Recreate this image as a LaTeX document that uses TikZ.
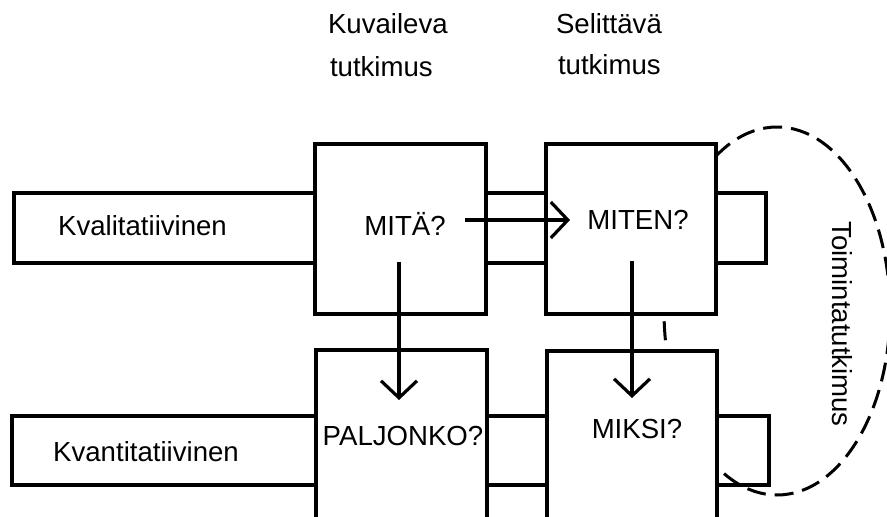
\documentclass[tikz,border=0pt]{standalone}
\usepackage{fontspec}
\setmainfont{Liberation Sans}
\usetikzlibrary{arrows.meta}
\begin{document}
\begin{tikzpicture}[x=1pt,y=-1pt,
  box/.style={draw, line width=3.2pt, rectangle, inner sep=0pt, outer sep=0pt},
  bigbox/.style={box, fill=white},
  lbl/.style={font=\fontsize{27.6}{33}\selectfont, inner sep=0pt, outer sep=0pt},
  conn/.style={line width=3.2pt, -{Straight Barb[length=17pt,width=36pt]}},
  dashring/.style={line width=3pt, dash pattern=on 19pt off 9pt, dash phase=4pt}
]
\useasboundingbox (0,0) rectangle (887,517);
\clip (0,0) rectangle (887,517);
\fill[white] (0,0) rectangle (887,517);

% dashed ellipse (Toimintatutkimus)
\draw[dashring] (777,311) ellipse [x radius=113, y radius=184];

% big boxes
\node[bigbox, minimum width=171pt, minimum height=170pt] (mita) at (400.5,229) {};
\node[bigbox, minimum width=170pt, minimum height=170pt] (miten) at (631,229) {};
\node[bigbox, minimum width=171pt, minimum height=250pt] (paljonko) at (401.5,475) {};
\node[bigbox, minimum width=170pt, minimum height=249pt] (miksi) at (632,475.5) {};

% row boxes and strips
\node[box, fill=white, minimum width=301pt, minimum height=70pt] (kval) at (164.5,228) {};
\node[box, minimum width=60pt, minimum height=70pt] (strip1) at (516,228) {};
\node[box, minimum width=50pt, minimum height=70pt] (rtop) at (741,228) {};
\node[box, fill=white, minimum width=304pt, minimum height=69pt] (kvant) at (164,450.5) {};
\node[box, minimum width=60pt, minimum height=69pt] (strip2) at (517,450.5) {};
\node[box, minimum width=52pt, minimum height=69pt] (rbot) at (743,450.5) {};

% texts
\node[lbl, anchor=base west] (t1a) at (328,33) {Kuvaileva};
\node[lbl, anchor=base west] (t1b) at (330,76) {tutkimus};
\node[lbl, anchor=base west] (t2a) at (556,33) {Selittävä};
\node[lbl, anchor=base west] (t2b) at (558,74) {tutkimus};
\node[lbl, anchor=base] (tkval) at (142.5,235) {Kvalitatiivinen};
\node[lbl, anchor=base] (tkvant) at (146,461) {Kvantitatiivinen};
\node[lbl, anchor=base] (tmita) at (405,235) {MITÄ?};
\node[lbl, anchor=base] (tmiten) at (638,229) {MITEN?};
\node[lbl, anchor=base] (tpal) at (403,445) {PALJONKO?};
\node[lbl, anchor=base] (tmiksi) at (637,438) {MIKSI?};
\node[lbl, anchor=base, rotate=-90] (ttoim) at (832,324) {Toimintatutkimus};

% connectors
\coordinate (a1s) at (399,262);
\coordinate (a1e) at (399,400);
\coordinate (a2s) at (632,261);
\coordinate (a2e) at (632,398);
\coordinate (a3s) at (465,220);
\coordinate (a3e) at (570,220);
\draw[conn] (a1s) -- (a1e);
\draw[conn] (a2s) -- (a2e);
\draw[conn] (a3s) -- (a3e);
\end{tikzpicture}
\end{document}
